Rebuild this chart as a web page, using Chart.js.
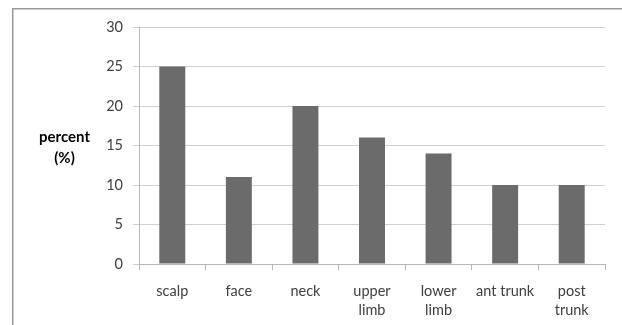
<!DOCTYPE html>
<html>
<head>
<meta charset="utf-8">
<script src="https://cdn.jsdelivr.net/npm/chart.js@4.4.0/dist/chart.umd.min.js"></script>
<style>
  html, body { margin: 0; padding: 0; background: #fff; }
  #wrap { position: relative; width: 622px; height: 325px; }
  canvas { display: block; }
</style>
</head>
<body>
<div id="wrap"><canvas id="c" width="622" height="325"></canvas></div>
<script>
const categories = ["scalp", "face", "neck", ["upper", "limb"], ["lower", "limb"], "ant trunk", ["post", "trunk"]];
const percentValues = [25, 11, 20, 16, 14, 10, 10];
const yTicks = [0, 5, 10, 15, 20, 25, 30];
const yTitleLines = ["percent", "(%)"];

const FONT = "Lato, 'Open Sans', sans-serif";

const framePlugin = {
  id: 'frame',
  beforeDraw(chart) {
    const ctx = chart.ctx;
    ctx.save();
    ctx.strokeStyle = '#9a9a9a';
    ctx.lineWidth = 1.5;
    ctx.strokeRect(12.75, 8.75, 640, 340);
    ctx.restore();
  }
};

const yTitlePlugin = {
  id: 'ytitle',
  afterDraw(chart) {
    const ctx = chart.ctx;
    ctx.save();
    ctx.fillStyle = '#000';
    ctx.font = "bold 15px " + FONT;
    ctx.textAlign = 'center';
    ctx.textBaseline = 'middle';
    ctx.fillText(yTitleLines[0], 64.5, 137);
    ctx.fillText(yTitleLines[1], 64.5, 158);
    ctx.restore();
  }
};

new Chart(document.getElementById('c'), {
  type: 'bar',
  data: {
    labels: categories,
    datasets: [{
      data: percentValues,
      backgroundColor: '#6b6b6b',
      borderWidth: 0,
      categoryPercentage: 1.0,
      barPercentage: 0.39
    }]
  },
  options: {
    responsive: false,
    animation: false,
    devicePixelRatio: 1,
    layout: { padding: { top: 27, right: 17, left: 0, bottom: 0 } },
    plugins: { legend: { display: false }, tooltip: { enabled: false } },
    scales: {
      x: {
        grid: { drawOnChartArea: false, drawTicks: true, tickLength: 6, color: '#b8b8b8', offset: true },
        border: { color: '#b8b8b8', width: 1 },
        ticks: { color: '#404040', font: { family: FONT, size: 14.5, lineHeight: 1.3 }, padding: 12, maxRotation: 0, autoSkip: false },
        afterFit(scale) { scale.height = 61; }
      },
      y: {
        min: 0, max: 30,
        afterBuildTicks(scale) { scale.ticks = yTicks.map(v => ({ value: v })); },
        grid: { color: '#d0d0d0', tickLength: 6, drawTicks: true },
        border: { color: '#b8b8b8', width: 1 },
        ticks: { color: '#404040', font: { family: FONT, size: 14.5 }, padding: 10 },
        afterFit(scale) { scale.width = 139; }
      }
    }
  },
  plugins: [framePlugin, yTitlePlugin]
});
</script>
</body>
</html>
